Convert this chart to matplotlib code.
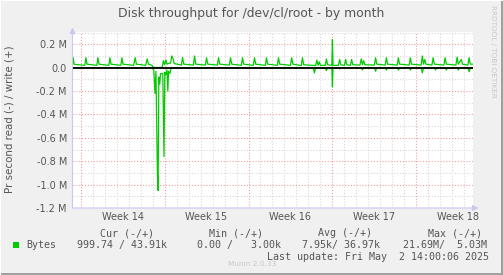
import matplotlib
matplotlib.use("Agg")
import matplotlib.pyplot as plt
from matplotlib.patches import Rectangle
import numpy as np

# ---------------- data (days since Mon 31 Mar 2025 00:00, values in MB/s) -------------
write_t = [-0.68, -0.62, -0.55, -0.47,
           0.35, 0.44, 0.53,
           1.35, 1.44, 1.53,
           2.35, 2.44, 2.53,
           3.35, 3.44, 3.53,
           4.42, 4.55, 4.65,
           5.42, 5.55, 5.65,
           5.95, 6.05, 6.8, 6.9, 7.0, 7.12, 7.2, 7.3, 7.5, 7.6, 7.7, 7.8,
           8.4, 8.5, 8.6,
           9.4, 9.5, 9.6,
           10.4, 10.5, 10.6,
           11.4, 11.5, 11.6,
           12.4, 12.5, 12.6,
           13.4, 13.5, 13.6,
           14.4, 14.5, 14.6,
           15.4, 15.5, 15.6,
           16.4, 16.5, 16.6,
           17.5, 17.6, 17.7,
           18.4, 18.5, 18.6,
           19.6, 19.7, 19.8, 19.9, 20.0,
           20.4, 20.5, 20.6,
           20.95, 21.0, 21.05,
           21.5, 21.6, 21.7,
           22.0, 22.1, 22.2,
           22.5, 22.6, 22.7,
           23.3, 23.4, 23.5, 23.6, 23.7,
           24.5, 24.6, 24.7,
           25.4, 25.5, 25.6,
           26.4, 26.5, 26.6,
           27.4, 27.5, 27.6,
           28.4, 28.5, 28.6, 28.7, 28.8,
           29.3, 29.4, 29.5,
           30.3, 30.4, 30.5,
           31.3, 31.4, 31.5, 31.75, 31.85,
           32.3, 32.4, 32.5, 32.75]
write_v = [0.03, 0.085, 0.03, 0.028,
           0.02, 0.085, 0.03,
           0.02, 0.085, 0.03,
           0.02, 0.085, 0.03,
           0.02, 0.085, 0.03,
           0.02, 0.085, 0.03,
           0.02, 0.075, 0.03,
           0.02, 0.002, 0.002, 0.06, 0.025, 0.066, 0.03, 0.035, 0.04, 0.1, 0.08, 0.035,
           0.022, 0.088, 0.03,
           0.022, 0.1, 0.03,
           0.022, 0.085, 0.03,
           0.022, 0.085, 0.03,
           0.022, 0.085, 0.03,
           0.02, 0.085, 0.03,
           0.02, 0.085, 0.03,
           0.02, 0.085, 0.03,
           0.02, 0.085, 0.03,
           0.02, 0.085, 0.03,
           0.018, 0.085, 0.025,
           0.018, 0.065, 0.02, 0.05, 0.02,
           0.02, 0.075, 0.025,
           0.02, 0.24, 0.02,
           0.02, 0.07, 0.025,
           0.02, 0.07, 0.025,
           0.02, 0.07, 0.025,
           0.022, 0.075, 0.025, 0.06, 0.025,
           0.022, 0.085, 0.03,
           0.022, 0.085, 0.03,
           0.022, 0.085, 0.03,
           0.022, 0.085, 0.03,
           0.022, 0.1, 0.03, 0.07, 0.03,
           0.022, 0.085, 0.03,
           0.022, 0.085, 0.03,
           0.022, 0.09, 0.03, 0.07, 0.03,
           0.022, 0.085, 0.03, 0.03]

read_t = [-0.68, 5.95, 6.1, 6.2, 6.28, 6.4, 6.46, 6.52, 6.6, 6.66, 6.85, 6.95, 7.02,
          7.1, 7.2, 7.27, 7.33, 7.44, 7.55,
          19.4, 19.5, 19.6, 20.4, 20.5, 20.6, 20.95, 21.0, 21.05, 21.5, 21.6, 21.7,
          23.4, 23.5, 23.6, 24.5, 24.6, 24.7, 25.4, 25.5, 25.6, 26.4, 26.5, 26.6,
          27.4, 27.5, 27.6, 28.4, 28.5, 28.6, 29.5, 29.6, 29.7, 30.4, 30.5, 30.6,
          31.4, 31.5, 31.6, 32.3, 32.4, 32.5, 32.75]
read_v = [0.0, 0.0, 0.02, 0.22, 0.03, 0.9, 1.05, 0.08, 0.14, 0.05, 0.05, 0.76, 0.04,
          0.06, 0.02, 0.2, 0.03, 0.05, 0.0,
          0.0, 0.045, 0.0, 0.0, 0.025, 0.0, 0.0, 0.165, 0.0, 0.0, 0.01, 0.0,
          0.0, 0.02, 0.0, 0.0, 0.03, 0.0, 0.0, 0.02, 0.0, 0.0, 0.02, 0.0,
          0.0, 0.02, 0.0, 0.0, 0.045, 0.0, 0.0, 0.02, 0.0, 0.0, 0.02, 0.0,
          0.0, 0.02, 0.0, 0.0, 0.035, 0.0, 0.0]

week_labels = ["Week 14", "Week 15", "Week 16", "Week 17", "Week 18"]
y_ticks = [-1.2, -1.0, -0.8, -0.6, -0.4, -0.2, 0.0, 0.2]
y_tick_labels = ["-1.2 M", "-1.0 M", "-0.8 M", "-0.6 M", "-0.4 M", "-0.2 M", "0.0", "0.2 M"]

title = "Disk throughput for /dev/cl/root - by month"
ylabel = "Pr second read (-) / write (+)"
series_name = "Bytes"
stat_headers = ["Cur (-/+)", "Min (-/+)", "Avg (-/+)", "Max (-/+)"]
stat_values = ["999.74 / 43.91k", "0.00 /   3.00k", "7.95k/ 36.97k", "21.69M/  5.03M"]
last_update = "Last update: Fri May  2 14:00:06 2025"

# ---------------- figure ----------------
W, H = 503, 275
fig = plt.figure(figsize=(W / 100, H / 100), dpi=100)
fig.patch.set_facecolor("#f0f0f0")

def fx(x):
    return x / W

def fy(y):
    return 1 - y / H

L, R, T, B = 72.5, 473.3, 32.0, 208.0
ax = fig.add_axes([fx(L), fy(B), (R - L) / W, (B - T) / H])
ax.set_facecolor("white")
ax.set_xlim(-0.68, 32.75)
ax.set_ylim(-1.2, 0.305)

grey = "#555555"
minor_c = "#d8d8d8"
major_c = "#f0a0a0"
dots = (0, (1, 1.6))

for d in range(0, 33):
    c = major_c if d % 7 == 0 else minor_c
    ax.axvline(d, color=c, lw=0.8, ls=dots, zorder=1)
for yv in np.arange(-1.2, 0.31, 0.1):
    k = int(round(yv * 10))
    c = major_c if k % 2 == 0 else minor_c
    ax.axhline(yv, color=c, lw=0.8, ls=dots, zorder=1)

green = "#00cc00"
ax.plot(write_t, write_v, color=green, lw=0.9, zorder=3)
ax.plot(read_t, [-v for v in read_v], color=green, lw=0.9, zorder=3)
ax.axhline(0, color="black", lw=1.3, zorder=4)

for s in ax.spines.values():
    s.set_visible(False)

ax.set_yticks(y_ticks)
ax.set_yticklabels(y_tick_labels)
ax.set_xticks([3.5 + 7 * i for i in range(len(week_labels))])
ax.set_xticklabels(week_labels)
ax.tick_params(axis="both", length=0, labelsize=7, labelcolor=grey, pad=4)
ax.tick_params(axis="x", pad=3)

axis_c = "#c8c8f0"
ax.annotate("", xy=(0, 1.025), xytext=(0, 0), xycoords="axes fraction",
            arrowprops=dict(arrowstyle="-|>,head_length=0.35,head_width=0.18",
                            color=axis_c, lw=0.8, shrinkA=0, shrinkB=0), annotation_clip=False)
ax.annotate("", xy=(1.013, 0), xytext=(0, 0), xycoords="axes fraction",
            arrowprops=dict(arrowstyle="-|>,head_length=0.35,head_width=0.18",
                            color=axis_c, lw=0.8, shrinkA=0, shrinkB=0), annotation_clip=False)

fig.text(fx(251), fy(14), title, ha="center", va="center", fontsize=8.9, color=grey)
fig.text(fx(10), fy(119), ylabel, ha="center", va="center", rotation=90, fontsize=7.4, color=grey)
fig.text(fx(493), fy(5), "RRDTOOL / TOBI OETIKER", ha="center", va="top", rotation=270,
         fontsize=5.2, color="#c8c8c8")

mono = "DejaVu Sans Mono"
fs = 7.2
for hx, h in zip([126.7, 236, 345, 455], stat_headers):
    fig.text(fx(hx), fy(233.5), h, ha="center", va="center", family=mono, fontsize=fs, color=grey)
fig.patches.append(Rectangle((fx(13.3), fy(248)), 6 / W, 6 / H, transform=fig.transFigure,
                             facecolor=green, edgecolor="none"))
fig.text(fx(26.7), fy(245.3), series_name, ha="left", va="center", family=mono, fontsize=fs, color=grey)
for vx, v in zip([77.3, 196.7, 302, 403.3], stat_values):
    fig.text(fx(vx), fy(245.3), v, ha="left", va="center", family=mono, fontsize=fs, color=grey)
fig.text(fx(488.7), fy(257.5), last_update, ha="right", va="center", family=mono, fontsize=fs, color=grey)
fig.text(fx(252), fy(264.5), "Munin 2.0.33", ha="center", va="center", fontsize=5.3, color="#c8c8c8")

fig.patches.append(Rectangle((0, 0), 1, 2 / H, transform=fig.transFigure, facecolor="#a0a0a0", edgecolor="none"))
fig.patches.append(Rectangle((1 - 2 / W, 0), 2 / W, 1, transform=fig.transFigure, facecolor="#a0a0a0", edgecolor="none"))
fig.patches.append(Rectangle((0, 1 - 1 / H), 1, 1 / H, transform=fig.transFigure, facecolor="#ffffff", edgecolor="none"))
fig.patches.append(Rectangle((0, 0), 1 / W, 1, transform=fig.transFigure, facecolor="#ffffff", edgecolor="none"))

fig.savefig("out.png", dpi=100, facecolor=fig.get_facecolor())
